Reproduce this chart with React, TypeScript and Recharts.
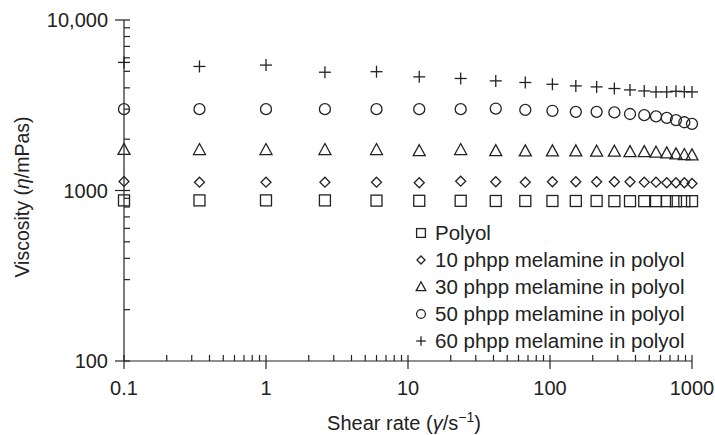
import { ScatterChart, Scatter, XAxis, YAxis } from 'recharts';

const INK = '#222';
const FONT = '"Liberation Sans", Arial, Helvetica, sans-serif';

// shear rate (1/s) at which each series was measured
const shearRate = [0.1, 0.34, 1, 2.6, 6, 12, 23.5, 41.5, 67, 104, 152, 213, 284, 366, 461, 558, 664, 771, 883, 1000];

// viscosity (mPas)
const polyol = [875, 875, 875, 875, 872, 870, 870, 868, 868, 868, 868, 868, 866, 866, 866, 866, 866, 866, 866, 866];
const mel10 = [1130, 1119, 1119, 1119, 1119, 1110, 1134, 1125, 1119, 1125, 1125, 1125, 1125, 1125, 1119, 1119, 1110, 1110, 1110, 1100];
const mel30 = [1730, 1727, 1727, 1727, 1727, 1700, 1727, 1703, 1696, 1696, 1696, 1689, 1689, 1680, 1680, 1666, 1651, 1628, 1614, 1607];
const mel50 = [3000, 3000, 3000, 3000, 3000, 3000, 3000, 3025, 2970, 2934, 2894, 2894, 2870, 2810, 2766, 2720, 2665, 2587, 2514, 2460];
const mel60 = [5640, 5340, 5440, 4940, 4975, 4640, 4540, 4395, 4300, 4200, 4107, 4052, 3964, 3890, 3838, 3786, 3786, 3820, 3800, 3786];

const xMajor = [0.1, 1, 10, 100, 1000];
const xMajorLabels = ['0.1', '1', '10', '100', '1000'];
const yMajor = [100, 1000, 10000];
const yMajorLabels = ['100', '1000', '10,000'];

const minorSteps = [2, 3, 4, 5, 6, 7, 8, 9];
const xTicks = [...xMajor, ...xMajor.slice(0, -1).flatMap((d) => minorSteps.map((m) => +(d * m).toPrecision(3)))];
const yTicks = [...yMajor, ...yMajor.slice(0, -1).flatMap((d) => minorSteps.map((m) => d * m))];

const toPoints = (values: number[]) => values.map((v, i) => ({ x: shearRate[i], y: v }));

const Square = ({ cx, cy, s = 1 }: any) => (
  <rect x={cx - 5.5 * s} y={cy - 5.5 * s} width={11 * s} height={11 * s} fill="none" stroke={INK} strokeWidth={1.3} />
);
const Diamond = ({ cx, cy, s = 1 }: any) => (
  <polygon
    points={`${cx},${cy - 5 * s} ${cx + 5 * s},${cy} ${cx},${cy + 5 * s} ${cx - 5 * s},${cy}`}
    fill="none"
    stroke={INK}
    strokeWidth={1.3}
  />
);
const Triangle = ({ cx, cy, s = 1 }: any) => (
  <polygon
    points={`${cx},${cy - 6.5 * s} ${cx + 6 * s},${cy + 4.5 * s} ${cx - 6 * s},${cy + 4.5 * s}`}
    fill="none"
    stroke={INK}
    strokeWidth={1.3}
  />
);
const Circle = ({ cx, cy, s = 1 }: any) => <circle cx={cx} cy={cy} r={5.5 * s} fill="none" stroke={INK} strokeWidth={1.3} />;
const Plus = ({ cx, cy, s = 1 }: any) => (
  <g stroke={INK} strokeWidth={1.3}>
    <line x1={cx - 6 * s} x2={cx + 6 * s} y1={cy} y2={cy} />
    <line x1={cx} x2={cx} y1={cy - 6 * s} y2={cy + 6 * s} />
  </g>
);

const series = [
  { name: 'Polyol', values: polyol, Shape: Square },
  { name: '10 phpp melamine in polyol', values: mel10, Shape: Diamond },
  { name: '30 phpp melamine in polyol', values: mel30, Shape: Triangle },
  { name: '50 phpp melamine in polyol', values: mel50, Shape: Circle },
  { name: '60 phpp melamine in polyol', values: mel60, Shape: Plus },
];

const XTick = ({ x, y, payload }: any) => {
  const idx = xMajor.indexOf(payload.value);
  const major = idx >= 0;
  return (
    <g>
      <line x1={x} x2={x} y1={y - 6} y2={major ? y + 8 : y} stroke={INK} strokeWidth={1.2} />
      {major && (
        <text x={x} y={y + 34} textAnchor="middle" fill={INK} fontSize={20} fontFamily={FONT}>
          {xMajorLabels[idx]}
        </text>
      )}
    </g>
  );
};

const YTick = ({ x, y, payload }: any) => {
  const idx = yMajor.indexOf(payload.value);
  const major = idx >= 0;
  return (
    <g>
      <line x1={major ? x - 9 : x} x2={x + 6} y1={y} y2={y} stroke={INK} strokeWidth={1.2} />
      {major && (
        <text x={x - 16} y={y} dy="0.35em" textAnchor="end" fill={INK} fontSize={20} fontFamily={FONT}>
          {yMajorLabels[idx]}
        </text>
      )}
    </g>
  );
};

const XTitle = ({ viewBox }: any) => (
  <text x={viewBox.x + viewBox.width / 2 - 4} y={viewBox.y + 69} textAnchor="middle" fill={INK} fontSize={20} fontFamily={FONT}>
    Shear rate (<tspan fontStyle="italic">γ</tspan>/s
    <tspan dy={-8} fontSize={14}>−1</tspan>
    <tspan dy={8}>)</tspan>
  </text>
);

const YTitle = () => (
  <text
    x={22}
    y={197}
    transform="rotate(-90, 22, 197)"
    textAnchor="middle"
    dominantBaseline="central"
    fill={INK}
    fontSize={19.5}
    fontFamily={FONT}
  >
    Viscosity (<tspan fontStyle="italic">η</tspan>/mPas)
  </text>
);

const LegendBox = () => (
  <div style={{ position: 'absolute', left: 414, top: 219, fontFamily: FONT, fontSize: 20.5, color: INK }}>
    {series.map(({ name, Shape }) => (
      <div key={name} style={{ display: 'flex', alignItems: 'center', height: 27, whiteSpace: 'nowrap' }}>
        <svg width={14} height={14} style={{ marginRight: 7, flex: 'none' }}>
          <Shape cx={7} cy={7} s={0.8} />
        </svg>
        <span>{name}</span>
      </div>
    ))}
  </div>
);

export default function App() {
  return (
    <div style={{ position: 'absolute', left: 0, top: 0, width: 715, height: 435, background: '#fff' }}>
      <ScatterChart width={715} height={435} margin={{ top: 20, right: 23, bottom: 0, left: 0 }}>
        <XAxis
          dataKey="x"
          type="number"
          scale="log"
          domain={[0.1, 1000]}
          ticks={xTicks}
          interval={0}
          tick={<XTick />}
          tickLine={false}
          tickSize={0}
          tickMargin={0}
          height={74}
          axisLine={{ stroke: INK, strokeWidth: 1.2 }}
          label={(props: any) => <XTitle {...props} />}
        />
        <YAxis
          dataKey="y"
          type="number"
          scale="log"
          domain={[100, 10000]}
          ticks={yTicks}
          interval={0}
          tick={<YTick />}
          tickLine={false}
          tickSize={0}
          tickMargin={0}
          width={124}
          axisLine={{ stroke: INK, strokeWidth: 1.2 }}
          label={() => <YTitle />}
        />
        {series.map(({ name, values, Shape }) => (
          <Scatter
            key={name}
            name={name}
            data={toPoints(values)}
            shape={(p: any) => <Shape cx={p.cx} cy={p.cy} />}
            isAnimationActive={false}
          />
        ))}
      </ScatterChart>
      <LegendBox />
    </div>
  );
}
